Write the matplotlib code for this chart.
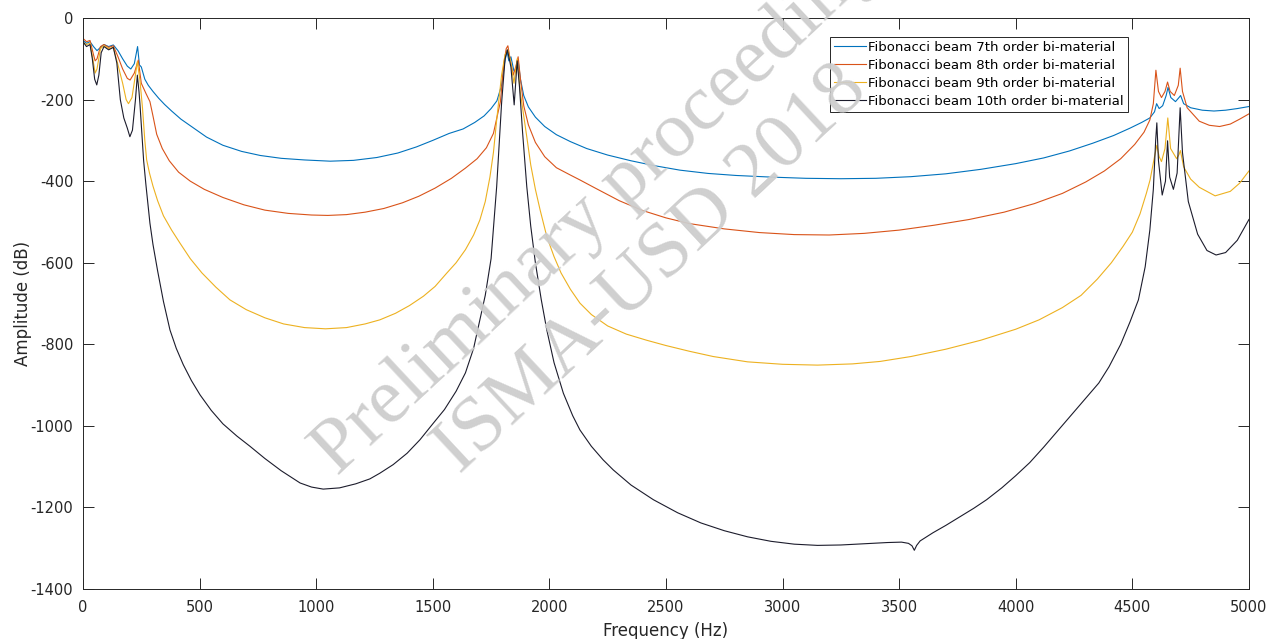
import matplotlib
matplotlib.use("Agg")
import matplotlib.pyplot as plt

plt.rcParams['axes.unicode_minus'] = False
plt.rcParams['font.family'] = ['DejaVu Sans']

labels = ['Fibonacci beam 7th order bi-material',
          'Fibonacci beam 8th order bi-material',
          'Fibonacci beam 9th order bi-material',
          'Fibonacci beam 10th order bi-material']
colors = ['#0072BD', '#D95319', '#EDB120', '#1c1c2c']

# 7th order
f7 = [0, 15, 30, 45, 60, 75, 90, 110, 130, 150, 170, 190, 205, 220, 234, 242, 250, 265, 280, 300,
      325, 350, 380, 420, 470, 530, 600, 680, 760, 850, 950, 1060, 1160, 1260, 1350, 1430, 1500,
      1570, 1630, 1680, 1720, 1750, 1775, 1795, 1808, 1818, 1826, 1835, 1848, 1858, 1866, 1876, 1890,
      1910, 1940, 1980, 2030, 2090, 2160, 2250, 2350, 2450, 2560, 2680, 2800, 2950, 3100, 3250, 3400,
      3550, 3700, 3850, 4000, 4120, 4230, 4330, 4420, 4490, 4540, 4575, 4595, 4604, 4615, 4630, 4645,
      4653, 4665, 4685, 4700, 4707, 4720, 4750, 4800, 4850, 4900, 4950, 5000]
a7 = [-55, -62, -58, -70, -80, -72, -65, -70, -66, -80, -100, -118, -125, -112, -70, -115, -120, -150, -165, -180,
      -197, -212, -228, -248, -268, -292, -312, -327, -337, -344, -348, -351, -349, -342, -331, -316, -300,
      -283, -272, -256, -240, -222, -203, -165, -110, -80, -105, -95, -130, -125, -105, -150, -190,
      -218, -243, -266, -286, -303, -320, -336, -350, -362, -373, -381, -386, -390, -393, -394, -393,
      -389, -382, -371, -357, -343, -326, -307, -288, -270, -256, -245, -230, -210, -222, -215, -190,
      -170, -195, -205, -195, -190, -210, -220, -226, -228, -226, -222, -217]

# 8th order
f8 = [0, 15, 30, 45, 52, 60, 75, 90, 110, 130, 150, 170, 190, 202, 220, 237, 250, 270, 287, 300, 316,
      340, 370, 410, 460, 520, 600, 690, 780, 880, 980, 1050, 1130, 1210, 1290, 1370, 1440, 1510, 1580,
      1640, 1690, 1730, 1760, 1790, 1805, 1815, 1822, 1830, 1845, 1858, 1866, 1876, 1890, 1910, 1940,
      1980, 2030, 2090, 2131, 2200, 2300, 2400, 2500, 2600, 2750, 2900, 3050, 3200, 3350, 3500, 3650,
      3800, 3950, 4080, 4200, 4300, 4380, 4450, 4510, 4550, 4575, 4590, 4601, 4612, 4625, 4640, 4651,
      4662, 4680, 4697, 4705, 4715, 4735, 4787, 4830, 4874, 4920, 4960, 5000]
a8 = [-50, -58, -55, -90, -105, -100, -70, -65, -72, -68, -95, -125, -148, -152, -135, -103, -160, -185, -205, -240, -285,
      -320, -350, -378, -400, -420, -440, -458, -471, -479, -483, -484, -482, -476, -467, -453, -437, -417, -393,
      -368, -345, -318, -283, -205, -110, -75, -68, -95, -140, -115, -95, -150, -215, -262, -305,
      -340, -367, -385, -397, -418, -448, -472, -490, -504, -517, -526, -531, -532, -528, -520, -508,
      -494, -476, -455, -430, -402, -375, -345, -310, -280, -250, -210, -128, -180, -195, -180, -157,
      -180, -190, -165, -123, -180, -220, -253, -263, -266, -260, -248, -235]

# 9th order
f9 = [0, 15, 30, 45, 52, 60, 75, 90, 110, 130, 150, 170, 185, 195, 210, 222, 233, 244, 255, 265, 273,
      285, 300, 320, 345, 380, 416, 460, 510, 570, 630, 700, 780, 860, 950, 1040, 1130, 1210, 1273, 1340,
      1400, 1460, 1510, 1559, 1600, 1640, 1675, 1702, 1725, 1745, 1760, 1774, 1795, 1810, 1822, 1835,
      1848, 1862, 1875, 1890, 1903, 1920, 1940, 1960, 1989, 2020, 2050, 2090, 2131, 2180, 2250, 2330,
      2417, 2500, 2600, 2703, 2850, 3000, 3150, 3300, 3418, 3550, 3700, 3850, 4000, 4100, 4200, 4280,
      4350, 4410, 4460, 4500, 4533, 4560, 4576, 4595, 4605, 4615, 4625, 4640, 4652, 4664, 4690, 4700,
      4706, 4720, 4750, 4787, 4855, 4920, 4960, 5000]
a9 = [-60, -65, -62, -110, -135, -125, -75, -68, -75, -72, -115, -160, -200, -210, -195, -150, -107, -152, -220, -300, -348,
      -380, -412, -448, -485, -520, -552, -590, -625, -660, -691, -715, -735, -750, -759, -762, -759, -750, -740, -724,
      -705, -682, -658, -626, -600, -568, -532, -495, -450, -390, -330, -250, -140, -90, -78, -110,
      -160, -100, -180, -240, -291, -360, -420, -470, -536, -585, -625, -665, -699, -727, -755, -775,
      -790, -803, -817, -830, -843, -849, -851, -848, -842, -830, -812, -790, -763, -740, -710, -680,
      -640, -600, -560, -525, -480, -430, -397, -340, -312, -340, -352, -320, -245, -320, -345, -335,
      -325, -365, -395, -415, -436, -425, -405, -375]

# 10th order
f10 = [0, 15, 30, 40, 50, 59, 68, 78, 90, 110, 130, 145, 160, 175, 190, 201, 212, 225, 233, 240, 244,
       252, 260, 270, 280, 287, 300, 320, 345, 373, 400, 430, 465, 502, 550, 600, 660, 716, 780, 850, 931,
       980, 1030, 1100, 1170, 1230, 1273, 1330, 1390, 1445, 1500, 1550, 1600, 1640, 1675, 1702, 1725, 1750,
       1774, 1795, 1810, 1820, 1835, 1849, 1862, 1872, 1885, 1903, 1920, 1940, 1965, 1989, 2020, 2060,
       2100, 2131, 2180, 2230, 2274, 2350, 2446, 2550, 2650, 2750, 2850, 2950, 3050, 3150, 3250, 3350,
       3450, 3510, 3540, 3555, 3565, 3575, 3590, 3620, 3645, 3700, 3760, 3820, 3875, 3940, 4000, 4060,
       4120, 4180, 4240, 4300, 4356, 4400, 4450, 4490, 4526, 4555, 4575, 4590, 4600, 4605, 4612, 4628,
       4642, 4651, 4660, 4676, 4692, 4705, 4715, 4740, 4780, 4820, 4859, 4900, 4950, 5000]
a10 = [-58, -70, -65, -100, -150, -164, -140, -85, -70, -78, -72, -110, -200, -245, -270, -291, -275, -200, -140, -180, -209,
       -280, -350, -410, -465, -503, -555, -620, -695, -765, -810, -850, -889, -924, -962, -995, -1025, -1050, -1080, -1110, -1140,
       -1150, -1155, -1152, -1142, -1130, -1116, -1095, -1067, -1034, -995, -960, -915, -870, -810, -740, -680, -590,
       -413, -209, -100, -78, -120, -213, -105, -170, -280, -413, -510, -600, -690, -765, -845, -920,
       -975, -1010, -1050, -1083, -1108, -1145, -1181, -1213, -1238, -1257, -1272, -1283, -1290, -1293, -1292, -1289,
       -1286, -1285, -1288, -1294, -1305, -1293, -1282, -1271, -1262, -1244, -1223, -1202, -1181, -1152, -1122, -1090,
       -1052, -1012, -972, -932, -895, -855, -800, -745, -691, -610, -520, -420, -300, -257, -350, -434,
       -400, -301, -390, -420, -380, -220, -330, -450, -530, -570, -581, -575, -545, -494]

xticks = list(range(0, 5001, 500))
yticks = list(range(-1400, 1, 200))

fig = plt.figure(figsize=(12.79, 6.39), dpi=100)
ax = fig.add_axes([0.0649, 0.0782, 0.9116, 0.8936])

for f, a, c, lab in zip([f7, f8, f9, f10], [a7, a8, a9, a10], colors, labels):
    ax.plot(f, a, color=c, lw=0.8, label=lab)

ax.set_xlim(0, 5000)
ax.set_ylim(-1400, 0)
ax.set_xticks(xticks)
ax.set_yticks(yticks)
ax.set_xlabel('Frequency (Hz)', fontsize=12, color='#262626', labelpad=5)
ax.set_ylabel('Amplitude (dB)', fontsize=12, color='#262626', labelpad=-1)
ax.tick_params(direction='in', top=True, right=True, length=8, width=0.7,
               labelsize=10.5, colors='#262626')
ax.tick_params(axis='x', pad=8)
ax.tick_params(axis='y', pad=7)
for s in ax.spines.values():
    s.set_color('#262626')
    s.set_linewidth(0.7)

leg = ax.legend(loc='upper right', bbox_to_anchor=(0.8962, 0.9667), borderaxespad=0,
                fontsize=9.5, handlelength=2.4, handletextpad=0.2, labelspacing=0.37,
                borderpad=0.3, fancybox=False, framealpha=1, edgecolor='#262626')
leg.get_frame().set_linewidth(0.7)

# watermark
wm = dict(family='Liberation Serif', fontsize=57, color='#cdcdcd', rotation=43,
          ha='center', va='center', rotation_mode='anchor', alpha=0.95, zorder=10)
fig.text(0.476, 0.689, 'Preliminary proceedings', **wm)
fig.text(0.509, 0.5775, 'ISMA-USD 2018', **wm)

fig.savefig('out.png', dpi=100)
